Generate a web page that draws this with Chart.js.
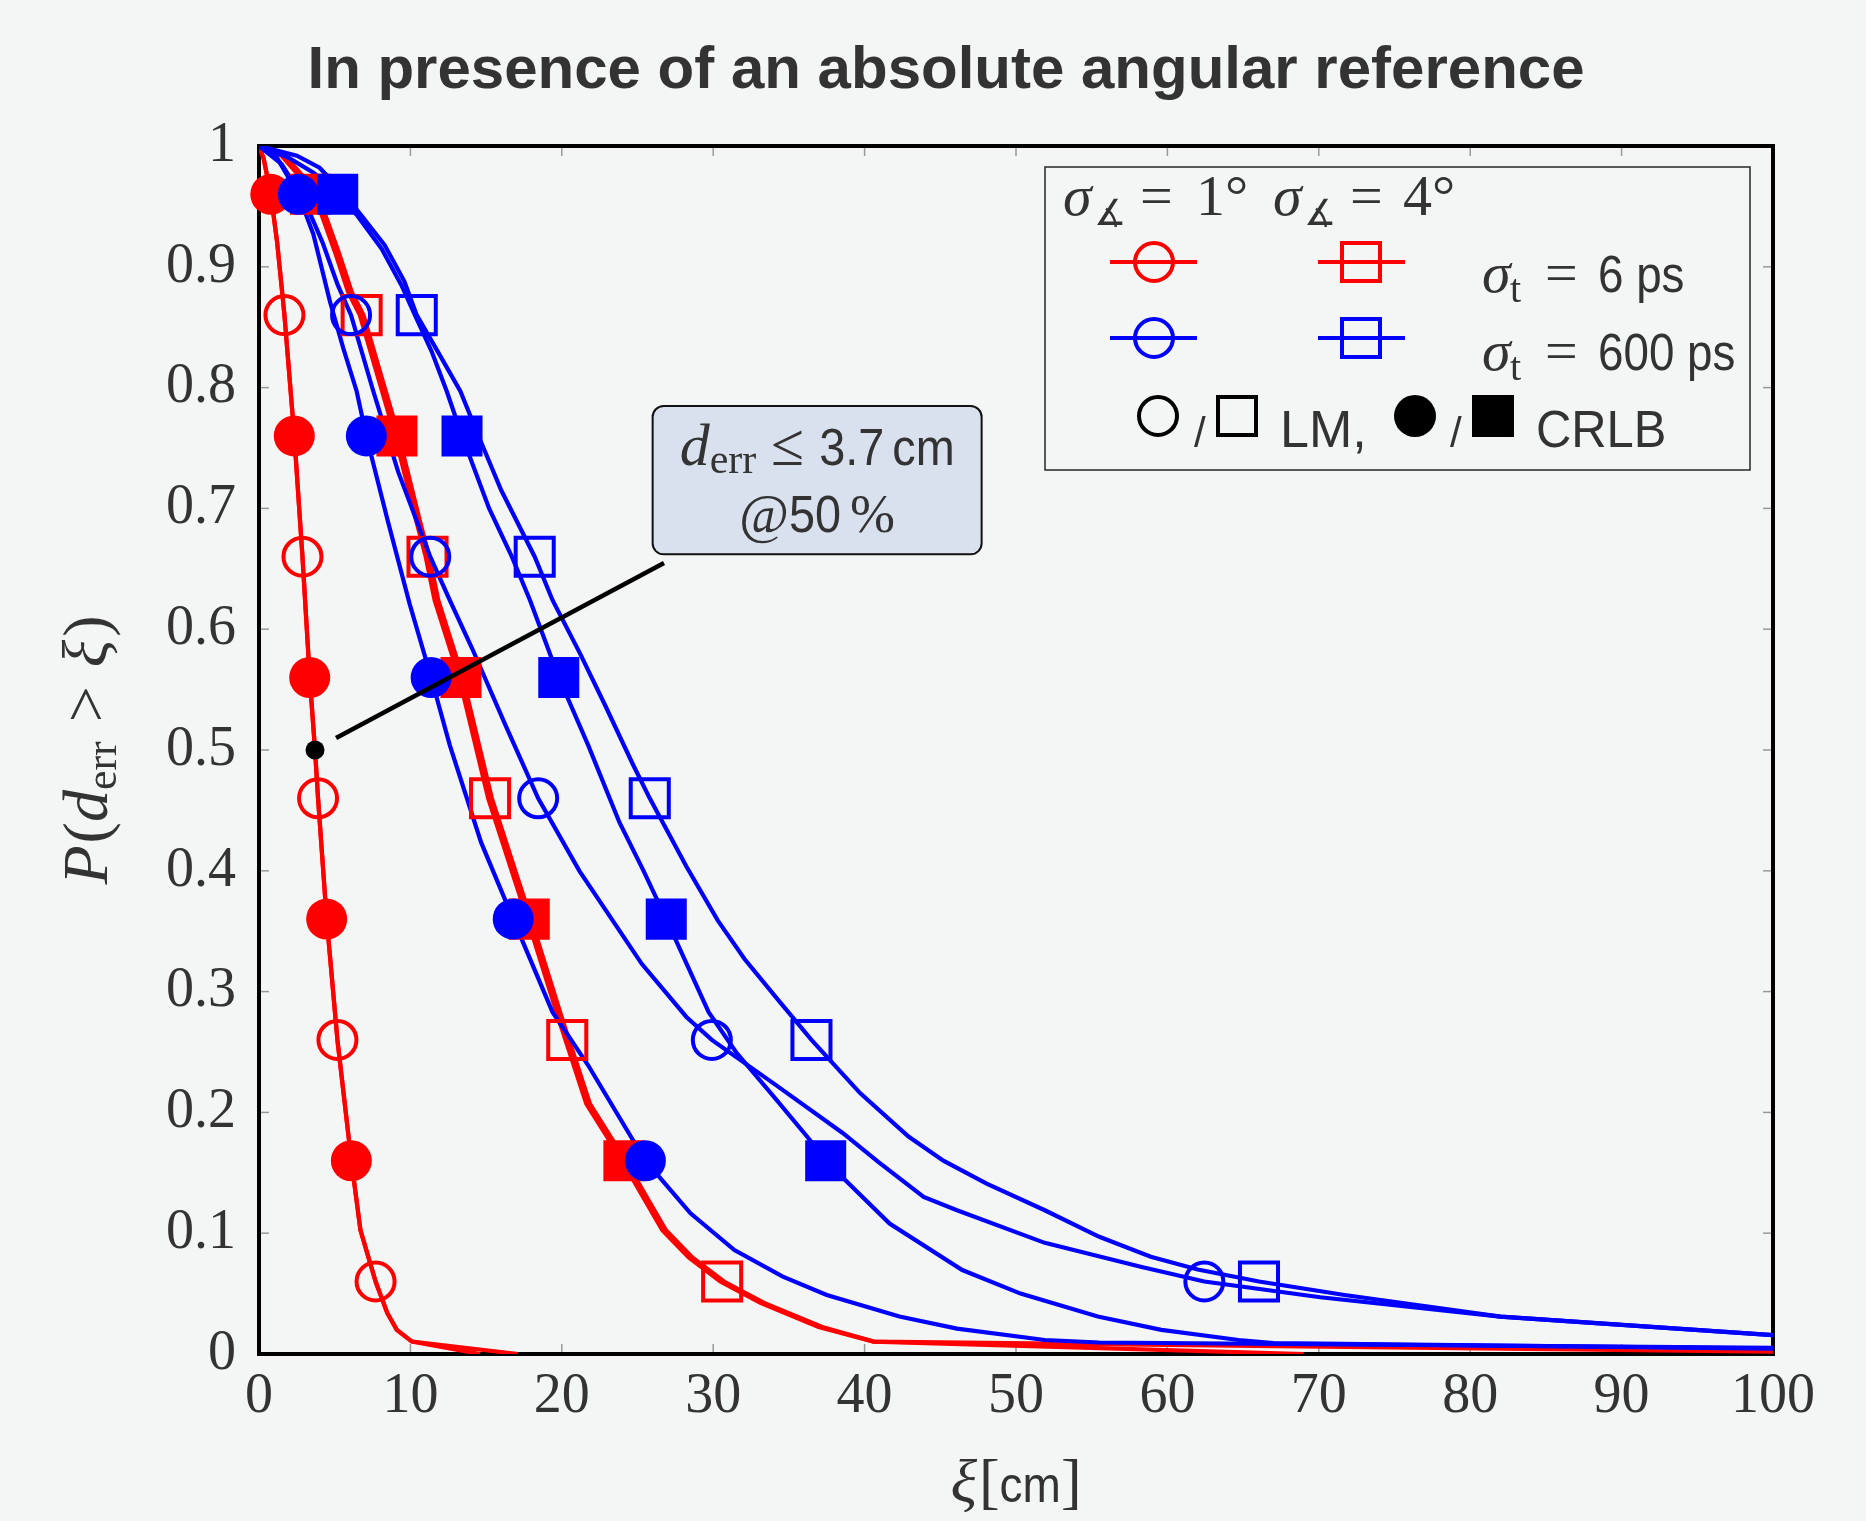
<!DOCTYPE html>
<html><head><meta charset="utf-8">
<script src="https://cdn.jsdelivr.net/npm/chart.js@4.4.1/dist/chart.umd.min.js"></script>
<style>html,body{margin:0;padding:0;background:#f4f6f5;}canvas{display:block;}</style>
</head><body>
<canvas id="c" width="1866" height="1521"></canvas>
<script>
// ---------------- data ----------------
const xTicks = [0, 10, 20, 30, 40, 50, 60, 70, 80, 90, 100];
const xTickLabels = ['0', '10', '20', '30', '40', '50', '60', '70', '80', '90', '100'];
const yTicks = [0, 0.1, 0.2, 0.3, 0.4, 0.5, 0.6, 0.7, 0.8, 0.9, 1];
const yTickLabels = ['0', '0.1', '0.2', '0.3', '0.4', '0.5', '0.6', '0.7', '0.8', '0.9', '1'];

// probability levels where the markers sit
const filledLevels = [0.96, 0.76, 0.56, 0.36, 0.16];
const openLevels = [0.86, 0.66, 0.46, 0.26, 0.06];

// sigma_t = 6 ps, sigma_angle = 1 deg
const red1CrlbX = [0, 0.3, 0.78, 1.2, 1.68, 2.33, 2.87, 3.35, 3.7, 3.9, 4.47, 5.18, 6.1, 6.7, 7.7, 8.47, 9.1, 10.1, 14.6];
const red1CrlbY = [1, 0.99, 0.96, 0.92, 0.86, 0.76, 0.66, 0.56, 0.5, 0.46, 0.36, 0.26, 0.16, 0.1025, 0.06, 0.034, 0.02, 0.0103, 0];
const red1LmX = [0, 0.3, 0.78, 1.2, 1.68, 2.33, 2.87, 3.35, 3.7, 3.9, 4.47, 5.18, 6.1, 6.7, 7.7, 8.47, 9.1, 10.1, 17.1];
const red1LmY = [1, 0.99, 0.96, 0.92, 0.86, 0.76, 0.66, 0.56, 0.5, 0.46, 0.36, 0.26, 0.16, 0.1025, 0.06, 0.034, 0.02, 0.0103, 0];
// sigma_t = 6 ps, sigma_angle = 4 deg
const red4LmX = [0, 1.72, 3.05, 3.62, 4.15, 5.25, 6.13, 6.9, 8.44, 9.23, 10.62, 11.25, 11.84, 13.46, 15.38, 17.15, 17.97, 20.09, 20.48, 21.86, 24.22, 26.88, 28.62, 30.71, 33.36, 37.2, 40.6, 100];
const red4LmY = [1, 0.992, 0.973, 0.96, 0.951, 0.9125, 0.879, 0.86, 0.794, 0.76, 0.69, 0.66, 0.624, 0.56, 0.46, 0.3915, 0.36, 0.275, 0.26, 0.207, 0.16, 0.1025, 0.08, 0.06, 0.0423, 0.0223, 0.0103, 0.002];
const red4CrlbX = [0, 1.48, 2.81, 3.38, 3.91, 5.01, 5.89, 6.66, 8.2, 8.99, 10.38, 11.01, 11.6, 13.22, 15.14, 16.91, 17.73, 19.85, 20.24, 21.62, 23.98, 26.64, 28.38, 30.47, 33.12, 36.96, 40.6, 69];
const red4CrlbY = [1, 0.992, 0.973, 0.96, 0.951, 0.9125, 0.879, 0.86, 0.794, 0.76, 0.69, 0.66, 0.624, 0.56, 0.46, 0.3915, 0.36, 0.275, 0.26, 0.207, 0.16, 0.1025, 0.08, 0.06, 0.0423, 0.0223, 0.0103, 0];
// sigma_t = 600 ps, sigma_angle = 1 deg
const blue1CrlbX = [0, 1.2, 2.6, 3.59, 4.69, 5.57, 6.45, 7.09, 8.5, 9.95, 11.37, 12.6, 14.67, 16.79, 19.39, 21.74, 25.52, 28.5, 31.4, 34.6, 37.5, 42.3, 46.1, 51.9, 55.5, 100];
const blue1CrlbY = [1, 0.99, 0.96, 0.927, 0.871, 0.8325, 0.797, 0.76, 0.69, 0.621, 0.56, 0.504, 0.4235, 0.36, 0.283, 0.239, 0.16, 0.1165, 0.086, 0.064, 0.0488, 0.031, 0.021, 0.0116, 0.0095, 0.005];
const blue1LmX = [0, 1.5, 3.0, 4.2, 5.2, 6.08, 7.55, 9.2, 11.31, 12.6, 14.08, 16.3, 18.44, 21.16, 25.28, 28.23, 29.91, 34.1, 38.55, 40.9, 43.9, 46.1, 51.9, 58.3, 62.44, 70.1, 82, 100];
const blue1LmY = [1, 0.985, 0.955, 0.92, 0.885, 0.86, 0.797, 0.73, 0.66, 0.624, 0.584, 0.52, 0.46, 0.40, 0.323, 0.279, 0.26, 0.223, 0.183, 0.159, 0.13, 0.119, 0.092, 0.072, 0.06, 0.047, 0.031, 0.0157];
// sigma_t = 600 ps, sigma_angle = 4 deg
const blue4LmX = [0, 2.5, 4.0, 5.3, 6.6, 8.3, 9.6, 10.42, 11.8, 13.3, 14.5, 16.0, 18.21, 19.39, 21.2, 22.9, 24.7, 25.81, 28.23, 30.3, 32.07, 34.3, 36.49, 39.7, 42.9, 45.2, 48.06, 51.9, 55.5, 58.9, 62.0, 66.05, 71.7, 82, 100];
const blue4LmY = [1, 0.992, 0.982, 0.965, 0.945, 0.918, 0.888, 0.86, 0.83, 0.797, 0.76, 0.715, 0.66, 0.624, 0.58, 0.536, 0.488, 0.46, 0.4035, 0.359, 0.327, 0.293, 0.26, 0.216, 0.18, 0.16, 0.141, 0.119, 0.097, 0.0805, 0.07, 0.06, 0.0488, 0.031, 0.0157];
const blue4CrlbX = [0, 2.0, 3.6, 5.2, 6.45, 8.1, 9.4, 10.3, 11.4, 12.4, 13.41, 15.2, 16.7, 17.9, 19.8, 21.74, 23.81, 25.4, 26.9, 29.7, 31.5, 34.0, 36.4, 37.43, 38.8, 41.65, 46.45, 50.3, 55.4, 59.6, 64.7, 67, 100];
const blue4CrlbY = [1, 0.99, 0.978, 0.96, 0.943, 0.915, 0.885, 0.86, 0.83, 0.797, 0.76, 0.70, 0.66, 0.624, 0.56, 0.504, 0.44, 0.40, 0.36, 0.283, 0.25, 0.213, 0.177, 0.16, 0.143, 0.108, 0.0695, 0.05, 0.031, 0.02, 0.0116, 0.009, 0.0045];

// marker abscissae (filled = CRLB at filledLevels, open = LM at openLevels)
const red1CrlbMarkX = [0.78, 2.33, 3.35, 4.47, 6.1];
const red1LmMarkX = [1.68, 2.87, 3.9, 5.18, 7.7];
const red4CrlbMarkX = [3.4, 9.11, 13.34, 17.85, 24.1];
const red4LmMarkX = [6.78, 11.13, 15.26, 20.36, 30.59];
const blue1CrlbMarkX = [2.6, 7.09, 11.37, 16.79, 25.52];
const blue1LmMarkX = [6.08, 11.31, 18.44, 29.91, 62.44];
const blue4CrlbMarkX = [5.2, 13.41, 19.8, 26.9, 37.43];
const blue4LmMarkX = [10.42, 18.21, 25.81, 36.49, 66.05];

// 50 % point
const medianX = [3.7];
const medianY = [0.5];

// annotation callout (data coordinates)
const calloutBox = { x1: 26.0, x2: 47.73, y1: 0.7848, y2: 0.662 };
const calloutLine = { x1: 26.75, y1: 0.6548, x2: 5.09, y2: 0.51 };

// ---------------- styling ----------------
const RED = '#ff0000', BLUE = '#0000ff', BG = '#f4f6f5', TXT = '#333333';
const SERIF = '"Liberation Serif", "DejaVu Serif", serif';
const SANS = '"Liberation Sans", "DejaVu Sans", sans-serif';
const fnt = (style, size, fam) => `${style} ${size}px ${fam}`;

const pts = (xs, ys) => xs.map((x, i) => ({ x: x, y: ys[i] }));
const lineDS = (label, xs, ys, color) => ({
  label: label, data: pts(xs, ys), showLine: true, borderColor: color, backgroundColor: color,
  borderWidth: 4.2, pointRadius: 0, tension: 0, fill: false, order: 2
});
const markDS = (label, xs, levels, color, style, filled) => ({
  label: label, data: pts(xs, levels), showLine: false, clip: false, order: 1,
  pointStyle: style,
  pointRadius: style === 'rect' ? (filled ? 29 : 26.9) : (filled ? 20.5 : 19),
  pointBackgroundColor: filled ? color : 'rgba(0,0,0,0)',
  pointBorderColor: color, pointBorderWidth: filled ? 0 : 4
});

const datasets = [
  { label: '50 %', data: pts(medianX, medianY), showLine: false, clip: false, order: 0,
    pointStyle: 'circle', pointRadius: 9.5, pointBackgroundColor: '#000', pointBorderWidth: 0 },
  markDS('CRLB 600 ps 4°', blue4CrlbMarkX, filledLevels, BLUE, 'rect', true),
  markDS('LM 600 ps 4°', blue4LmMarkX, openLevels, BLUE, 'rect', false),
  markDS('CRLB 600 ps 1°', blue1CrlbMarkX, filledLevels, BLUE, 'circle', true),
  markDS('LM 600 ps 1°', blue1LmMarkX, openLevels, BLUE, 'circle', false),
  markDS('CRLB 6 ps 4°', red4CrlbMarkX, filledLevels, RED, 'rect', true),
  markDS('LM 6 ps 4°', red4LmMarkX, openLevels, RED, 'rect', false),
  markDS('CRLB 6 ps 1°', red1CrlbMarkX, filledLevels, RED, 'circle', true),
  markDS('LM 6 ps 1°', red1LmMarkX, openLevels, RED, 'circle', false),
  lineDS('CRLB 600 ps 4° line', blue4CrlbX, blue4CrlbY, BLUE),
  lineDS('LM 600 ps 4° line', blue4LmX, blue4LmY, BLUE),
  lineDS('CRLB 600 ps 1° line', blue1CrlbX, blue1CrlbY, BLUE),
  lineDS('LM 600 ps 1° line', blue1LmX, blue1LmY, BLUE),
  lineDS('CRLB 6 ps 4° line', red4CrlbX, red4CrlbY, RED),
  lineDS('LM 6 ps 4° line', red4LmX, red4LmY, RED),
  lineDS('CRLB 6 ps 1° line', red1CrlbX, red1CrlbY, RED),
  lineDS('LM 6 ps 1° line', red1LmX, red1LmY, RED)
];

// ---------------- text helpers ----------------
function runW(ctx, r) { ctx.font = r.font; return ctx.measureText(r.t).width * (r.sx || 1) + (r.gap || 0); }
function drawRuns(ctx, runs, x, y, align) {
  const ws = runs.map(r => runW(ctx, r));
  const total = ws.reduce((a, b) => a + b, 0);
  let cx = align === 'center' ? x - total / 2 : x;
  runs.forEach((r, i) => {
    ctx.save();
    ctx.font = r.font;
    ctx.translate(cx + (r.pre || 0), y + (r.dy || 0));
    ctx.scale(r.sx || 1, 1);
    ctx.fillText(r.t, 0, 0);
    ctx.restore();
    cx += ws[i];
  });
}
function txt(ctx, t, font, x, y, sx) {
  ctx.save(); ctx.font = font; ctx.translate(x, y); ctx.scale(sx || 1, 1); ctx.fillText(t, 0, 0); ctx.restore();
}
function circ(ctx, x, y, r, color, filled) {
  ctx.beginPath(); ctx.arc(x, y, r, 0, Math.PI * 2);
  if (filled) { ctx.fillStyle = color; ctx.fill(); } else { ctx.strokeStyle = color; ctx.lineWidth = 4; ctx.stroke(); }
}
function sq(ctx, x, y, s, color, filled) {
  if (filled) { ctx.fillStyle = color; ctx.fillRect(x - s / 2, y - s / 2, s, s); }
  else { ctx.strokeStyle = color; ctx.lineWidth = 4; ctx.strokeRect(x - s / 2, y - s / 2, s, s); }
}

const decor = {
  id: 'decor',
  beforeDraw(chart) {
    const c = chart.ctx; c.save(); c.fillStyle = BG; c.fillRect(0, 0, chart.width, chart.height); c.restore();
  },
  beforeDatasetsDraw(chart) {
    const c = chart.ctx, a = chart.chartArea, xs = chart.scales.x, ys = chart.scales.y;
    c.save();
    c.strokeStyle = '#999'; c.lineWidth = 1.5;
    xTicks.slice(1, -1).forEach(v => {
      const px = xs.getPixelForValue(v);
      c.beginPath(); c.moveTo(px, a.bottom); c.lineTo(px, a.bottom - 10); c.stroke();
      c.beginPath(); c.moveTo(px, a.top); c.lineTo(px, a.top + 10); c.stroke();
    });
    yTicks.slice(1, -1).forEach(v => {
      const py = ys.getPixelForValue(v);
      c.beginPath(); c.moveTo(a.left, py); c.lineTo(a.left + 10, py); c.stroke();
      c.beginPath(); c.moveTo(a.right, py); c.lineTo(a.right - 10, py); c.stroke();
    });
    c.strokeStyle = '#000'; c.lineWidth = 4;
    c.strokeRect(a.left, a.top, a.right - a.left, a.bottom - a.top);
    c.restore();
  },
  afterDatasetsDraw(chart) {
    const c = chart.ctx, a = chart.chartArea, xs = chart.scales.x, ys = chart.scales.y;
    c.save();
    c.fillStyle = TXT; c.textBaseline = 'alphabetic'; c.textAlign = 'left';

    // x-axis title
    drawRuns(c, [
      { t: 'ξ', font: fnt('italic', 62, SERIF), gap: 2 },
      { t: '[', font: fnt('normal', 62, SERIF) },
      { t: 'cm', font: fnt('normal', 50, SANS), sx: 0.92 },
      { t: ']', font: fnt('normal', 62, SERIF) }
    ], (a.left + a.right) / 2, a.bottom + 148, 'center');

    // y-axis title (rotated)
    c.save();
    c.translate(a.left - 152, (a.top + a.bottom) / 2);
    c.rotate(-Math.PI / 2);
    drawRuns(c, [
      { t: 'P', font: fnt('italic', 64, SERIF), gap: 2 },
      { t: '(', font: fnt('normal', 64, SERIF) },
      { t: 'd', font: fnt('italic', 64, SERIF) },
      { t: 'err', font: fnt('normal', 44, SERIF), dy: 9 },
      { t: ' > ', font: fnt('normal', 64, SERIF), gap: 6, pre: 3 },
      { t: 'ξ', font: fnt('italic', 64, SERIF), gap: 3 },
      { t: ')', font: fnt('normal', 64, SERIF) }
    ], 0, 0, 'center');
    c.restore();

    // callout line
    c.strokeStyle = '#000'; c.lineWidth = 4.5;
    c.beginPath();
    c.moveTo(xs.getPixelForValue(calloutLine.x1), ys.getPixelForValue(calloutLine.y1));
    c.lineTo(xs.getPixelForValue(calloutLine.x2), ys.getPixelForValue(calloutLine.y2));
    c.stroke();
    // callout box
    const bx1 = xs.getPixelForValue(calloutBox.x1), bx2 = xs.getPixelForValue(calloutBox.x2);
    const by1 = ys.getPixelForValue(calloutBox.y1), by2 = ys.getPixelForValue(calloutBox.y2);
    c.beginPath(); c.roundRect(bx1, by1, bx2 - bx1, by2 - by1, 11);
    c.fillStyle = '#d9e1ee'; c.fill(); c.strokeStyle = '#111'; c.lineWidth = 2; c.stroke();
    c.fillStyle = TXT;
    const bcx = (bx1 + bx2) / 2;
    drawRuns(c, [
      { t: 'd', font: fnt('italic', 60, SERIF) },
      { t: 'err', font: fnt('normal', 42, SERIF), dy: 8 },
      { t: ' ≤ ', font: fnt('normal', 60, SERIF) },
      { t: '3.7', font: fnt('normal', 52, SANS), sx: 0.9, gap: 8 },
      { t: 'cm', font: fnt('normal', 52, SANS), sx: 0.9 }
    ], bcx, by1 + 59, 'center');
    drawRuns(c, [
      { t: '@', font: fnt('normal', 54, SERIF) },
      { t: '50', font: fnt('normal', 52, SANS), sx: 0.9, gap: 9 },
      { t: '%', font: fnt('normal', 54, SERIF) }
    ], bcx, by1 + 126, 'center');

    // legend
    const lx = a.right - 728, ly = a.top + 21, lw = 705, lh = 303;
    c.fillStyle = BG; c.fillRect(lx, ly, lw, lh);
    c.strokeStyle = '#333'; c.lineWidth = 1.6; c.strokeRect(lx, ly, lw, lh);
    c.fillStyle = TXT;
    const sig = fnt('italic', 58, SERIF), eq = fnt('normal', 58, SERIF), sub = fnt('normal', 36, '"DejaVu Serif", "DejaVu Sans", serif');
    const r1 = ly + 48;
    txt(c, 'σ', sig, lx + 18, r1); txt(c, '∡', sub, lx + 49, r1 + 10); txt(c, '=', eq, lx + 95, r1); txt(c, '1°', eq, lx + 151, r1);
    txt(c, 'σ', sig, lx + 228, r1); txt(c, '∡', sub, lx + 259, r1 + 10); txt(c, '=', eq, lx + 305, r1); txt(c, '4°', eq, lx + 358, r1);
    const sampleRows = [{ y: ly + 95, col: RED, tb: ly + 125, label: '6 ps' }, { y: ly + 171, col: BLUE, tb: ly + 203, label: '600 ps' }];
    sampleRows.forEach(row => {
      c.strokeStyle = row.col; c.lineWidth = 4;
      c.beginPath(); c.moveTo(lx + 65, row.y); c.lineTo(lx + 152, row.y); c.stroke();
      c.beginPath(); c.moveTo(lx + 273, row.y); c.lineTo(lx + 360, row.y); c.stroke();
      circ(c, lx + 109, row.y, 19, row.col, false);
      sq(c, lx + 316, row.y, 38, row.col, false);
      c.fillStyle = TXT;
      txt(c, 'σ', sig, lx + 437, row.tb);
      txt(c, 't', fnt('normal', 40, SERIF), lx + 465, row.tb + 10);
      txt(c, '=', eq, lx + 500, row.tb);
      txt(c, row.label, fnt('normal', 52, SANS), lx + 553, row.tb, 0.88);
    });
    const r4 = ly + 249, r4b = ly + 280;
    circ(c, lx + 113, r4, 19, '#000', false);
    c.fillStyle = TXT; txt(c, '/', fnt('normal', 42, SANS), lx + 149, r4b);
    sq(c, lx + 192, r4, 38, '#000', false);
    c.fillStyle = TXT; txt(c, 'LM,', fnt('normal', 52, SANS), lx + 235, r4b, 1.0);
    circ(c, lx + 370, r4, 21, '#000', true);
    c.fillStyle = TXT; txt(c, '/', fnt('normal', 42, SANS), lx + 405, r4b);
    sq(c, lx + 448, r4, 42, '#000', true);
    c.fillStyle = TXT; txt(c, 'CRLB', fnt('normal', 52, SANS), lx + 491, r4b, 0.94);
    c.restore();
  }
};

new Chart(document.getElementById('c'), {
  type: 'scatter',
  data: { datasets: datasets },
  options: {
    responsive: false, animation: false, devicePixelRatio: 1, events: [],
    layout: { padding: { left: 119, right: 93, top: 0, bottom: 0 }, autoPadding: false },
    plugins: {
      legend: { display: false }, tooltip: { enabled: false },
      title: {
        display: true, text: 'In presence of an absolute angular reference', color: TXT,
        font: { family: SANS, size: 60, weight: 'bold', lineHeight: 1.2 },
        padding: { top: 35.5, bottom: 38.5 }
      }
    },
    scales: {
      x: {
        type: 'linear', min: 0, max: 100,
        afterBuildTicks: s => { s.ticks = xTicks.map(v => ({ value: v })); },
        afterFit: s => { s.height = 167; },
        ticks: { font: { family: SERIF, size: 56 }, color: TXT, padding: 10, maxRotation: 0, autoSkip: false,
                 callback: (v, i) => xTickLabels[i] },
        grid: { display: false, drawTicks: false }, border: { display: false }
      },
      y: {
        type: 'linear', min: 0, max: 1,
        afterBuildTicks: s => { s.ticks = yTicks.map(v => ({ value: v })); },
        afterFit: s => { s.width = 140; },
        ticks: { font: { family: SERIF, size: 56 }, color: TXT, padding: 23, autoSkip: false,
                 callback: (v, i) => yTickLabels[i] },
        grid: { display: false, drawTicks: false }, border: { display: false }
      }
    }
  },
  plugins: [decor]
});
</script>
</body></html>
